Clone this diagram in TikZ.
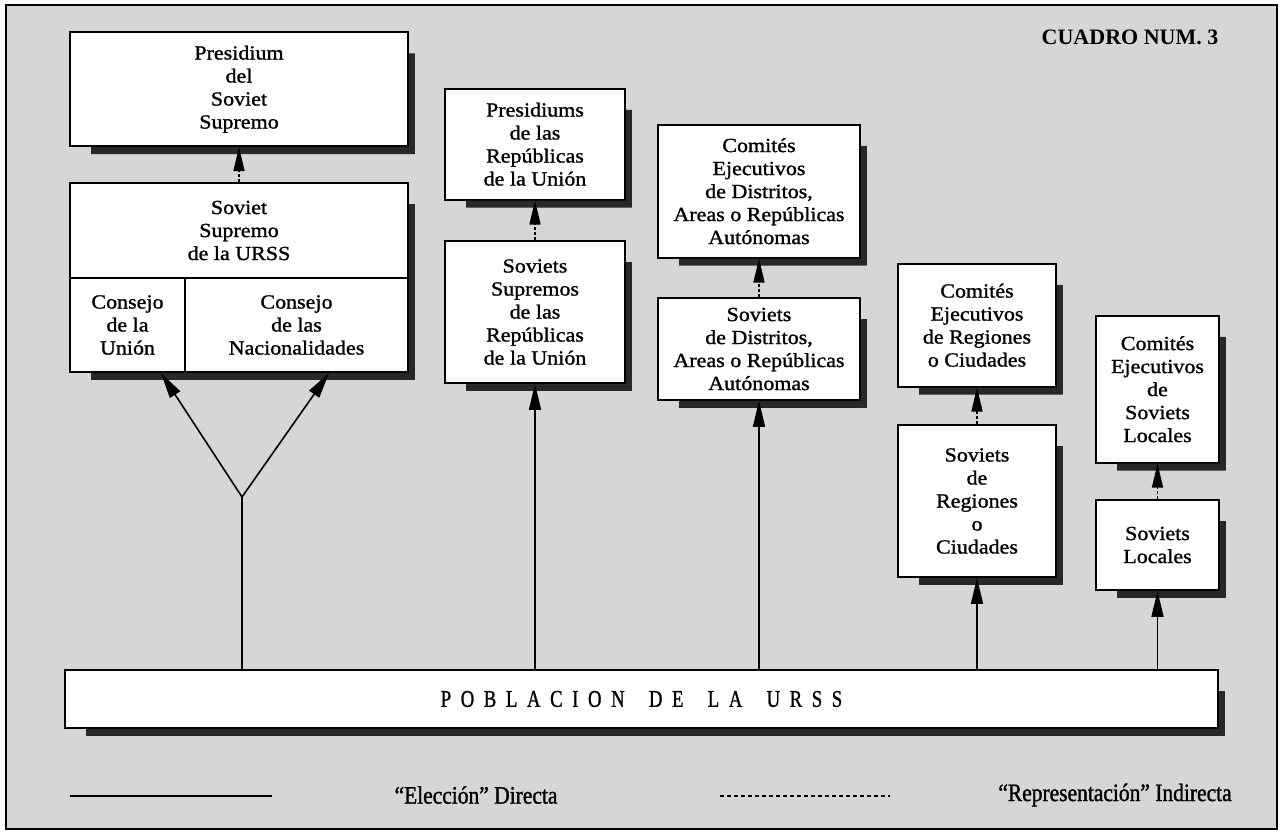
\documentclass[tikz,border=0pt]{standalone}
\usepackage{fontspec}
\setmainfont{Liberation Serif}
\newfontfamily\boxfont[FakeStretch=1.1,FakeBold=1.2]{Liberation Serif}
\newfontfamily\legfont[FakeStretch=0.86,FakeBold=1.2]{Liberation Serif}
\newfontfamily\pobfont[FakeStretch=0.78,FakeBold=1,LetterSpace=40]{Liberation Serif}
\usetikzlibrary{arrows.meta,positioning}
\definecolor{paper}{RGB}{214,214,214}
\definecolor{shadowgray}{RGB}{40,40,40}

\newcommand{\boxshadow}[2]{%
  \fill[shadowgray] ([yshift=-22pt]#1.north east) -- ++(6pt,0) |- ([xshift=22pt,yshift=-7pt]#2.south west)
    -- ([xshift=22pt]#2.south west) -- (#2.south west -| #1.north east) -- cycle;}

\begin{document}
\begin{tikzpicture}[x=1pt, y=-1pt,
                    org/.style={draw,fill=white,line width=1.8pt,align=center,inner sep=2pt,
                                font=\boxfont\fontsize{20}{23}\selectfont},
                    elect/.style={-{Triangle[length=26pt,width=12pt]},line width=1.6pt},
                    repres/.style={-{Triangle[length=24pt,width=11pt]},line width=1.6pt,
                                   dash pattern=on 3pt off 2pt}]

  \useasboundingbox (0,0) rectangle (1283,834);
  \fill[white] (0,0) rectangle (1283,834);
  \draw[line width=2pt,fill=paper] (6,5) rectangle (1277,829);

  \node[font=\bfseries\fontsize{22}{24}\selectfont] (num) at (1130,37) {CUADRO NUM. 3};

  \node[org,minimum width=338pt,minimum height=95pt] (ss) at (239,230.5) {Soviet\\Supremo\\de la URSS};
  \node[org,minimum width=115pt,minimum height=94pt] (cu) at (127.5,325) {Consejo\\de la\\Unión};
  \node[org,minimum width=223pt,minimum height=94pt] (cn) at (296.5,325) {Consejo\\de las\\Nacionalidades};
  \node[org,minimum width=338pt,minimum height=114pt] (ps) [above=35pt of ss] {Presidium\\del\\Soviet\\Supremo};

  \node[org,minimum width=180pt,minimum height=142pt] (sr) at (535,312) {Soviets\\Supremos\\de las\\Repúblicas\\de la Unión};
  \node[org,minimum width=180pt,minimum height=111pt] (pr) [above=39.5pt of sr] {Presidiums\\de las\\Repúblicas\\de la Unión};

  \node[org,minimum width=202pt,minimum height=102pt] (sd) at (759,349) {Soviets\\de Distritos,\\Areas o Repúblicas\\Autónomas};
  \node[org,minimum width=202pt,minimum height=133pt] (ced) [above=38.5pt of sd] {Comités\\Ejecutivos\\de Distritos,\\Areas o Repúblicas\\Autónomas};

  \node[org,minimum width=158pt,minimum height=152pt] (sreg) at (977,501) {Soviets\\de\\Regiones\\o\\Ciudades};
  \node[org,minimum width=158pt,minimum height=123pt] (cer) [above=36.5pt of sreg] {Comités\\Ejecutivos\\de Regiones\\o Ciudades};

  \node[org,minimum width=123pt,minimum height=90pt] (sl) at (1157.5,545) {Soviets\\Locales};
  \node[org,minimum width=123pt,minimum height=147pt] (cel) [above=35.5pt of sl] {Comités\\Ejecutivos\\de\\Soviets\\Locales};

  \node[org,minimum width=1153pt,minimum height=58pt,font=\pobfont\fontsize{24}{26}\selectfont] (pob) at (641.5,699)
    {POBLACION\hspace{10pt} DE\hspace{10pt} LA\hspace{10pt} URSS};

  \boxshadow{ps}{ps} \boxshadow{ss}{cu} \boxshadow{pr}{pr} \boxshadow{sr}{sr}
  \boxshadow{ced}{ced} \boxshadow{sd}{sd} \boxshadow{cer}{cer} \boxshadow{sreg}{sreg}
  \boxshadow{cel}{cel} \boxshadow{sl}{sl} \boxshadow{pob}{pob}

  \coordinate (fork) at (242,497);

  \draw[elect] (pob.north -| fork) -- (fork) -- ([xshift=-25pt]cu.south east);
  \draw[elect] (fork) -- ([xshift=145pt]cn.south west);
  \draw[elect] (pob.north -| sr.south) -- (sr.south);
  \draw[elect] (pob.north -| sd.south) -- (sd.south);
  \draw[elect] (pob.north -| sreg.south) -- (sreg.south);
  \draw[elect] (pob.north -| sl.south) -- (sl.south);

  \draw[repres] (ss.north) -- (ps.south);
  \draw[repres] (sr.north) -- (pr.south);
  \draw[repres] (sd.north) -- (ced.south);
  \draw[repres] (sreg.north) -- (cer.south);
  \draw[repres] (sl.north) -- (cel.south);

  \coordinate (solidA) at (70,796);
  \coordinate (solidB) at (272,796);
  \coordinate (dashA) at (720,796);
  \coordinate (dashB) at (890,796);
  \draw[line width=2.5pt] (solidA) -- (solidB);
  \draw[line width=2.5pt,dash pattern=on 4pt off 3pt] (dashA) -- (dashB);
  \node[font=\legfont\fontsize{25}{27}\selectfont] (direct) at (476,795) {“Elección” Directa};
  \node[font=\legfont\fontsize{25}{27}\selectfont] (indirect) at (1115,795) {“Representación” Indirecta};
\end{tikzpicture}
\end{document}
